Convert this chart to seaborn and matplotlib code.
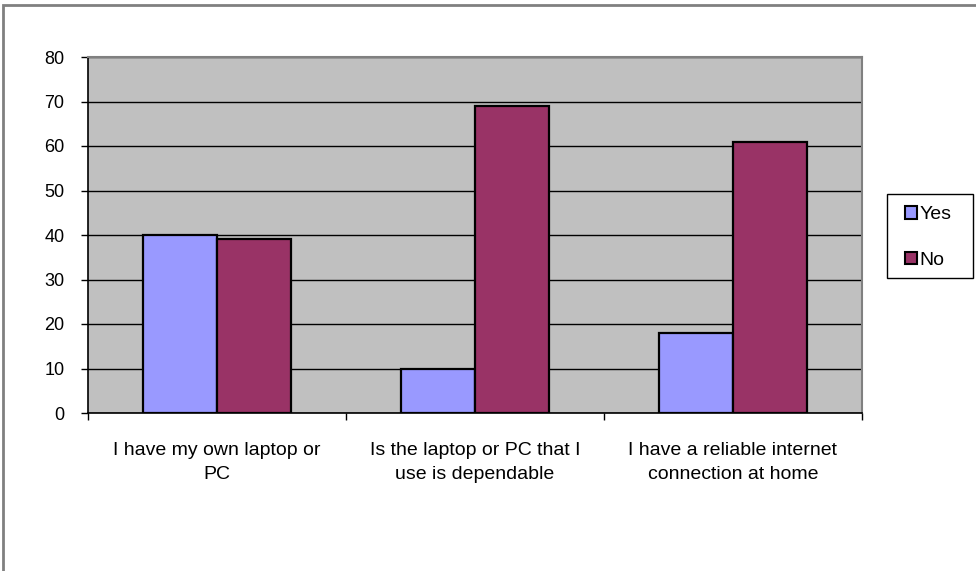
import matplotlib
matplotlib.use("Agg")
import matplotlib.pyplot as plt
import seaborn as sns
import pandas as pd
from matplotlib.patches import Rectangle

categories = ["I have my own laptop or\nPC",
              "Is the laptop or PC that I\nuse is dependable",
              "I have a reliable internet\nconnection at home"]
yes_values = [40, 10, 18]
no_values = [39, 69, 61]
series = ["Yes", "No"]
colors = ["#9999FF", "#993366"]
yticks = [0, 10, 20, 30, 40, 50, 60, 70, 80]

df = pd.DataFrame({
    "cat": categories * 2,
    "val": yes_values + no_values,
    "ans": ["Yes"] * 3 + ["No"] * 3,
})

sns.set_theme(style="white")
plt.rcParams["font.family"] = ["Liberation Sans", "DejaVu Sans"]
plt.rcParams["text.color"] = "black"
plt.rcParams["xtick.color"] = "black"
plt.rcParams["ytick.color"] = "black"

fig = plt.figure(figsize=(9.76, 5.71), dpi=100)
ax = fig.add_axes([88/976, 1-413/571, (862-88)/976, (413-57)/571])
ax.set_facecolor("#C0C0C0")

sns.barplot(data=df, x="cat", y="val", hue="ans", hue_order=series,
            palette=colors, width=0.5714, edgecolor="black", linewidth=1.6,
            saturation=1, ax=ax, legend=True)

ax.set_ylim(0, 80)
ax.set_xlim(-0.5, 2.5)
ax.set_yticks(yticks)
ax.set_yticklabels([str(t) for t in yticks], fontsize=13)
ax.set_axisbelow(True)
ax.yaxis.grid(True, color="black", linewidth=1)
ax.xaxis.grid(False)
ax.set_xlabel("")
ax.set_ylabel("")

ax.tick_params(axis="y", direction="out", length=5, width=1, color="black",
               pad=12, left=True, labelcolor="black")
ax.tick_params(axis="x", which="major", length=0, pad=21, labelsize=14,
               labelcolor="black")
for lbl in ax.get_xticklabels():
    lbl.set_linespacing(1.5)
ax.set_xticks([-0.5, 0.5, 1.5, 2.5], minor=True)
ax.tick_params(axis="x", which="minor", direction="out", length=5, width=1,
               color="black", bottom=True)

for s in ["left", "bottom"]:
    ax.spines[s].set_color("black")
    ax.spines[s].set_linewidth(1.2)
for s in ["top", "right"]:
    ax.spines[s].set_color("#808080")
    ax.spines[s].set_linewidth(1.5)

leg = ax.legend(loc="center left", bbox_to_anchor=(905/976, 1-237.5/571),
                bbox_transform=fig.transFigure, frameon=False,
                fontsize=14, handlelength=0.6, handleheight=0.6,
                handletextpad=0.15, labelspacing=1.46, borderpad=0,
                borderaxespad=0, title=None)
for h in leg.legend_handles:
    h.set_edgecolor("black")
    h.set_linewidth(1.5)
for t in leg.get_texts():
    t.set_color("black")

legend_box = Rectangle((887/976, 1-278/571), (973-887)/976, (278-194)/571,
                       transform=fig.transFigure, facecolor="white",
                       edgecolor="black", linewidth=1, zorder=-1)
fig.patches.append(legend_box)

border = Rectangle((3/976, -0.05), 1, 1.05 - 5/571, transform=fig.transFigure,
                   fill=False, edgecolor="#808080", linewidth=2, zorder=10)
fig.patches.append(border)

fig.savefig("out.png", dpi=100)
